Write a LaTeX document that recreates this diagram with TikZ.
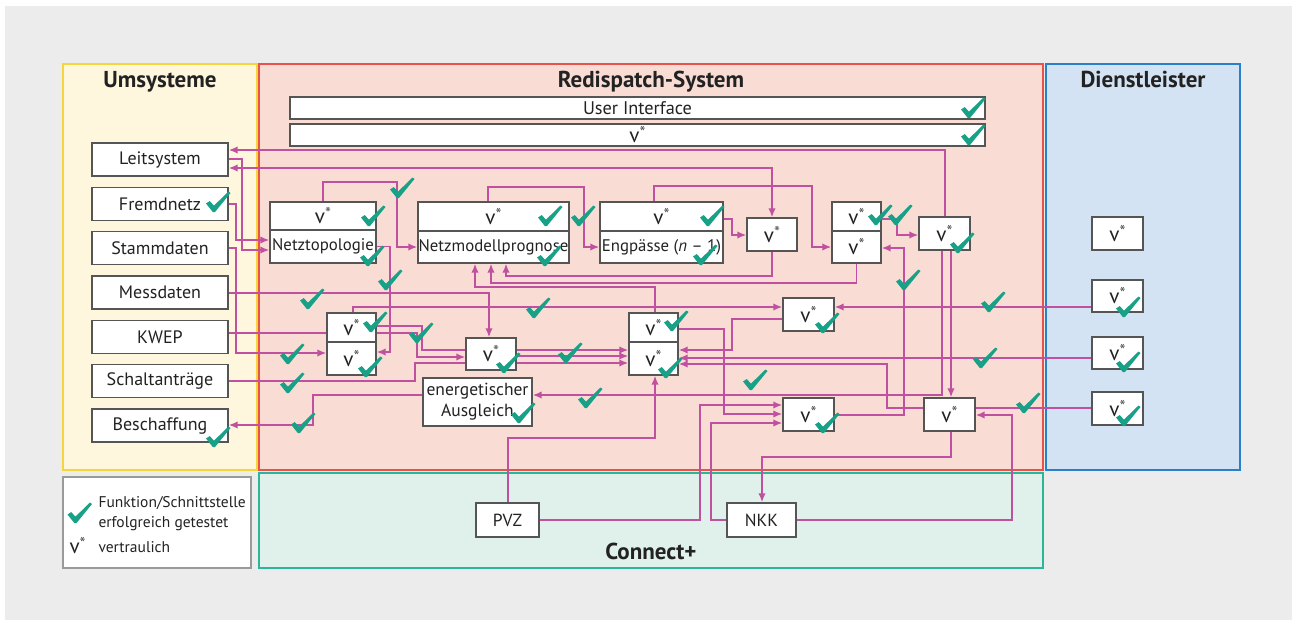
\documentclass[tikz,border=0pt]{standalone}
\usepackage{fontspec}
\setmainfont{PT Sans}
\usetikzlibrary{arrows.meta,calc}

\definecolor{bgc}{HTML}{ECECEC}
\definecolor{umsfill}{HTML}{FEF6DD}
\definecolor{umsdraw}{HTML}{F5D53B}
\definecolor{redfill}{HTML}{F9DDD5}
\definecolor{reddraw}{HTML}{E8524A}
\definecolor{dlfill}{HTML}{D4E3F4}
\definecolor{dldraw}{HTML}{2A80C8}
\definecolor{cpfill}{HTML}{E0F1EB}
\definecolor{cpdraw}{HTML}{2BB59B}
\definecolor{legdraw}{HTML}{9A9A9A}
\definecolor{boxc}{HTML}{555555}
\definecolor{txtc}{HTML}{222222}
\definecolor{starc}{HTML}{555555}
\definecolor{linc}{HTML}{C050A0}
\definecolor{chkc}{HTML}{19A187}

\pgfdeclarelayer{panel}
\pgfdeclarelayer{wires}
\pgfsetlayers{panel,wires,main}

\tikzset{
  box/.style={draw=boxc, fill=white, line width=1.3pt, inner sep=0pt,
    font=\fontsize{17.5}{19}\selectfont, text=txtc},
  lbox/.style={box, minimum width=136pt, minimum height=33pt, font=\fontsize{18}{20}\selectfont},
  cbox/.style={box, font=\fontsize{16.8}{19}\selectfont},
  ttl/.style={anchor=base, font=\fontsize{23}{25}\selectfont\bfseries, text=txtc},
  leg/.style={anchor=west, font=\fontsize{15.5}{17}\selectfont, text=txtc},
  con/.style={draw=linc, line width=1.8pt},
  arr/.style={con, -{Latex[length=9pt,width=7.5pt]}},
  darr/.style={con, {Latex[length=9pt,width=7.5pt]}-{Latex[length=9pt,width=7.5pt]}},
  chk/.pic={\fill[chkc] (-12,1.5) -- (-8.3,-0.9) -- (-4,3.6) -- (10.5,-10.5) -- (12.5,-9) -- (-3,10) -- (-5.2,10) -- cycle;}
}

% confidential marker: v with a raised grey asterisk
\newcommand{\vst}{{\fontsize{21}{21}\selectfont v\raisebox{4pt}{\fontsize{17}{17}\selectfont\color{starc}*}}}

\begin{document}
\begin{tikzpicture}[x=1pt,y=-1pt]
\useasboundingbox (0,0) rectangle (1297,624);

% ---------- panels ----------
\begin{pgfonlayer}{panel}
\fill[white] (0,0) rectangle (1297,624);
\fill[bgc] (5,6) rectangle (1292,620);
\filldraw[fill=umsfill, draw=umsdraw, line width=1.3pt] (63,64) rectangle (257,470);
\filldraw[fill=redfill, draw=reddraw, line width=1.3pt] (259,64) rectangle (1043,470);
\filldraw[fill=dlfill, draw=dldraw, line width=1.3pt] (1046,64) rectangle (1240,470);
\filldraw[fill=cpfill, draw=cpdraw, line width=1.3pt] (259,473) rectangle (1043,568);
\filldraw[fill=white, draw=legdraw, line width=1.3pt] (63,477) rectangle (251,568);
\end{pgfonlayer}

\node[ttl] (tums) at (160,87.5) {Umsysteme};
\node[ttl] (tred) at (651,87.5) {Redispatch-System};
\node[ttl] (tdl) at (1143,87.5) {Dienstleister};
\node[ttl] (tcp) at (651,559) {Connect+};

% ---------- Umsysteme ----------
\node[lbox] (leit)   at (160,159.5) {Leitsystem};
\node[lbox] (frem)   at (160,204)   {Fremdnetz};
\node[lbox] (stamm)  at (160,248.3) {Stammdaten};
\node[lbox] (mess)   at (160,292.6) {Messdaten};
\node[lbox] (kwep)   at (160,337)   {KWEP};
\node[lbox] (schalt) at (160,381.3) {Schaltanträge};
\node[lbox] (besch)  at (160,425.6) {Beschaffung};

% ---------- Redispatch-System ----------
\node[box, minimum width=695pt, minimum height=22pt, font=\fontsize{18.3}{19}\selectfont] (ui) at (637.5,108) {User Interface};
\node[box, minimum width=695pt, minimum height=22pt] (vbar) at (637.5,135) {\vst};

\node[cbox, minimum width=106pt, minimum height=28pt] (ntt) at (323,216)   {\vst};
\node[cbox, minimum width=106pt, minimum height=33pt] (ntb) at (323,246.5) {Netztopologie};
\node[cbox, minimum width=151pt, minimum height=29pt] (nmpt) at (493.5,216.5) {\vst};
\node[cbox, minimum width=151pt, minimum height=32pt] (nmpb) at (493.5,247)   {Netzmodellprognose};
\node[cbox, minimum width=123pt, minimum height=29pt] (engt) at (661.5,216.5) {\vst};
\node[cbox, minimum width=123pt, minimum height=32pt] (engb) at (661.5,247)   {Engpässe (\textit{n} – 1)};
\node[box, minimum width=50pt, minimum height=33pt] (e2) at (772,234.5) {\vst};
\node[box, minimum width=49pt, minimum height=29pt] (dt) at (856.5,216.5) {\vst};
\node[box, minimum width=49pt, minimum height=32pt] (db) at (856.5,247)   {\vst};
\node[box, minimum width=51pt, minimum height=33pt] (f)  at (944.5,233.5) {\vst};

\node[box, minimum width=49pt, minimum height=29pt] (gt) at (351.5,327.5) {\vst};
\node[box, minimum width=49pt, minimum height=33pt] (gb) at (351.5,358.5) {\vst};
\node[box, minimum width=50pt, minimum height=32pt] (h)  at (491,354) {\vst};
\node[box, minimum width=109pt, minimum height=48pt, align=center, font=\fontsize{17.5}{21}\selectfont] (ea) at (477.5,402) {energetischer\\Ausgleich};
\node[box, minimum width=49pt, minimum height=29pt] (it) at (653.5,327.5) {\vst};
\node[box, minimum width=49pt, minimum height=33pt] (ib) at (653.5,358.5) {\vst};
\node[box, minimum width=51pt, minimum height=33pt] (j)  at (808.5,314.5) {\vst};
\node[box, minimum width=51pt, minimum height=33pt] (k)  at (808.5,414.5) {\vst};
\node[box, minimum width=51pt, minimum height=33pt] (l)  at (949.5,414.5) {\vst};

% ---------- Dienstleister ----------
\node[box, minimum width=51pt, minimum height=33pt] (dl1) at (1117.5,233.5) {\vst};
\node[box, minimum width=51pt, minimum height=32pt] (dl2) at (1117.5,296)   {\vst};
\node[box, minimum width=51pt, minimum height=32pt] (dl3) at (1117.5,353)   {\vst};
\node[box, minimum width=51pt, minimum height=33pt] (dl4) at (1117.5,408.5) {\vst};

% ---------- Connect+ ----------
\node[box, minimum width=63pt, minimum height=34pt] (pvz) at (507.5,520) {PVZ};
\node[box, minimum width=69pt, minimum height=34pt] (nkk) at (761.5,520) {NKK};

% ---------- connectors ----------
\begin{pgfonlayer}{wires}
\draw[arr]  (f.north -| 945,0) |- (leit.east |- 0,150);
\draw[darr] (leit.east |- 0,168) -| (e2.north);
\draw[arr]  (leit.east |- 0,159) -| (242,250) -- (ntb.west |- 0,250);
\draw[arr]  (frem.east) -| (236,240) -- (ntb.west |- 0,240);
\draw[arr]  (stamm.east) -| (236,353) -- (gb.west |- 0,353);
\draw[arr]  (mess.east) -| (h.north -| 489,0);
\draw[arr]  (kwep.east |- 0,333) -| (417,357) -- (h.west |- 0,357);
\draw[arr]  (gt.north -| 353,0) |- (j.west |- 0,307);
\draw[arr]  (ntb.east) -| (390,352) -- (gb.east |- 0,352);
\draw[arr]  (ntt.north) |- (397,182) |- (nmpb.west |- 0,247);
\draw[arr]  (nmpt.north -| 488,0) |- (584,187) |- (engb.west |- 0,247);
\draw[arr]  (engt.north -| 654,0) |- (812,186) |- (db.west |- 0,247);
\draw[arr]  (engt.east |- 0,219) -| (732,235) -- (e2.west |- 0,235);
\draw[arr]  (e2.south) |- (506,276) -- (nmpb.south -| 506,0);
\draw[arr]  (db.south) |- (491,283) -- (nmpb.south -| 491,0);
\draw[arr]  (it.north -| 655,0) |- (475,287) -- (nmpb.south -| 475,0);
\draw[arr]  (dt.east |- 0,219) -| (897,235) -- (f.west |- 0,235);
\draw[arr]  (f.south -| 942,0) |- (ea.east |- 0,395);
\draw[arr]  (f.south -| 951,0) -- (l.north -| 951,0);
\draw[arr]  (k.east |- 0,415) -| (904,248) -- (db.east |- 0,248);
\draw[arr]  (dl2.west |- 0,307) -- (j.east |- 0,307);
\draw[arr]  (j.west |- 0,319) -| (732,350) -- (ib.east |- 0,350);
\draw[arr]  (dl3.west |- 0,358) -- (ib.east |- 0,358);
\draw[arr]  (l.west |- 0,408) -| (887,364) -- (ib.east |- 0,364);
\draw[con]  (l.east |- 0,408) -- (dl4.west |- 0,408);
\draw[arr]  (nkk.east) -| (1012,415) -- (l.east |- 0,415);
\draw[arr]  (l.south -| 951,0) |- (762,457) -- (nkk.north -| 762,0);
\draw[arr]  (pvz.east) -| (700,405) -- (k.west |- 0,405);
\draw[arr]  (it.east |- 0,329) -| (724,414) -- (k.west |- 0,414);
\draw[arr]  (nkk.west) -| (711,423) -- (k.west |- 0,423);
\draw[arr]  (pvz.north -| 508,0) |- (655,438) -- (ib.south -| 655,0);
\draw[arr]  (ea.west |- 0,395) -| (313,425) -- (besch.east |- 0,425);
\draw[arr]  (schalt.east) -| (415,363) -- (ib.west |- 0,363);
\draw[arr]  (gt.east |- 0,326) -| (422,350) -- (ib.west |- 0,350);
\draw[arr]  (h.east |- 0,356) -- (ib.west |- 0,356);
\end{pgfonlayer}

% ---------- test marks ----------
\foreach \p in {(218,202),(218,437),(973,108),(973,135),
  (373,216),(372,256),(402,188),(390,280),(312,299),(375,322),(370,367),
  (292,354),(292,383),(421,333),(538,308),(508,363),(570,353),(590,398),
  (523,413),(303,423),(676,321),(670,368),(755,380),(908,280),(827,323),
  (993,302),(985,358),(827,423),(1028,403),(1128,307),(1128,362),(1128,416),
  (712,216),(705,255),(880,215),(900,215),(962,243),(550,216),(583,216),(549,256)}
  \pic at \p {chk};

% ---------- legend ----------
\pic at (79.5,513) {chk};
\node[leg] (lg1) at (95,503) {Funktion/Schnittstelle};
\node[leg] (lg2) at (95,524) {erfolgreich getestet};
\node[leg] (lg3) at (66,546) {\vst};
\node[leg] (lg4) at (95,547) {vertraulich};
\end{tikzpicture}
\end{document}
